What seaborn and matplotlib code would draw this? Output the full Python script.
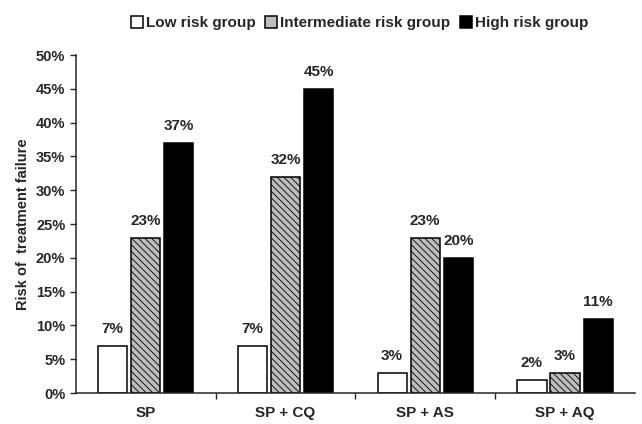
import pandas as pd
import numpy as np
from matplotlib import pyplot as plt
import seaborn as sns

treatments = ['SP', 'SP + CQ', 'SP + AS', 'SP + AQ']
groups = ['Low risk group', 'Intermediate risk group', 'High risk group']
low_risk = [7, 7, 3, 2]
intermediate_risk = [23, 32, 23, 3]
high_risk = [37, 45, 20, 11]

sns.set_style('ticks')
plt.rcParams['font.family'] = ['Liberation Sans', 'DejaVu Sans']
plt.rcParams['font.weight'] = 'bold'
plt.rcParams['hatch.linewidth'] = 0.6

df = pd.DataFrame({
    'Treatment': treatments * 3,
    'Group': np.repeat(groups, len(treatments)),
    'Risk': low_risk + intermediate_risk + high_risk,
})

fig = plt.figure(figsize=(6.42, 4.24), dpi=100)
ax = fig.add_axes([0.118, 0.073, 0.871, 0.797])

palette = {'Low risk group': 'white', 'Intermediate risk group': '#bdbdbd',
           'High risk group': 'black'}
sns.barplot(data=df, x='Treatment', y='Risk', hue='Group', order=treatments,
            hue_order=groups, palette=palette, width=0.71, gap=0.12,
            edgecolor='black', linewidth=1.1, saturation=1, ax=ax)

for cont, grp in zip(ax.containers, groups):
    if grp == 'Intermediate risk group':
        for p in cont:
            p.set_hatch('\\\\\\\\\\')
    ax.bar_label(cont, labels=['{:d}%'.format(int(v)) for v in cont.datavalues],
                 padding=7, fontsize=11, fontweight='bold')

ax.set_ylim(0, 50)
ax.set_xlim(-0.5, 3.5)
ax.set_yticks(range(0, 51, 5))
ax.set_yticklabels(['{:d}%'.format(v) for v in range(0, 51, 5)], fontsize=10.5)
ax.set_xticks([0.5, 1.5, 2.5], minor=False)
ax.set_xticklabels([])
ax.set_xticks([0, 1, 2, 3], minor=True)
ax.set_xticklabels(treatments, minor=True, fontsize=11)
ax.tick_params(axis='x', which='minor', length=0, pad=9)
ax.tick_params(axis='x', which='major', length=4, width=1)
ax.tick_params(axis='y', length=4, width=1)
ax.set_xlabel('')
ax.set_ylabel('Risk of  treatment failure', fontsize=10.5, fontweight='bold')
sns.despine(ax=ax)
for s in ['left', 'bottom']:
    ax.spines[s].set_linewidth(1.1)

handles, labels = ax.get_legend_handles_labels()
ax.get_legend().remove()
fig.legend(handles, labels, loc='upper center', bbox_to_anchor=(0.56, 0.995),
           ncol=3, frameon=False, handlelength=0.8, handleheight=0.8,
           handletextpad=0.2, columnspacing=0.6,
           prop={'weight': 'bold', 'size': 11})

fig.savefig('out.png', dpi=100)
